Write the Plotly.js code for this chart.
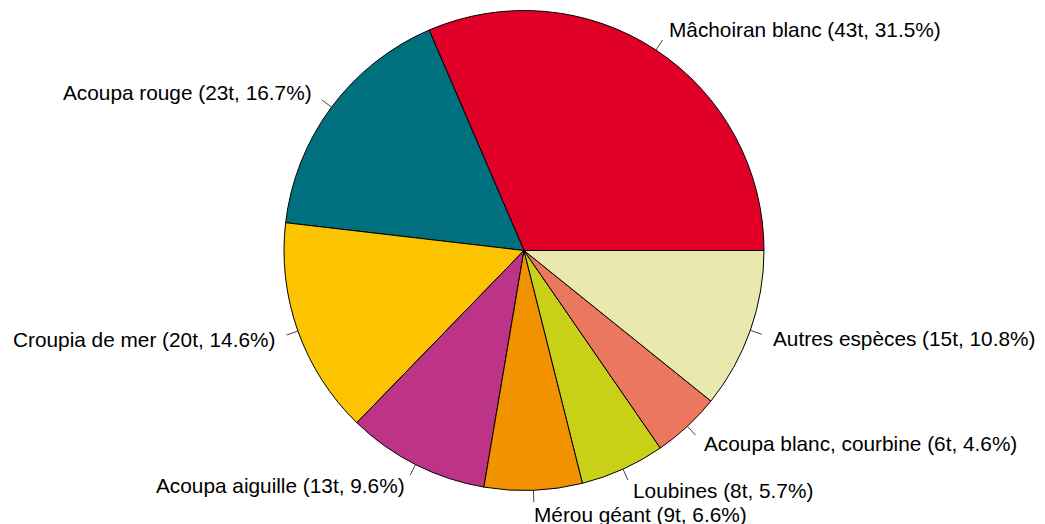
<!DOCTYPE html>
<html>
<head>
<meta charset="utf-8">
<script src="https://cdn.plot.ly/plotly-3.0.1.min.js"></script>
<style>
  html, body { margin: 0; padding: 0; background: #fff; }
  #myPlot { width: 1045px; height: 524px; }
</style>
</head>
<body>
<div id="myPlot"></div>
<script>
// Species and catches (tonnes, share in %)
const species = ['Mâchoiran blanc', 'Acoupa rouge', 'Croupia de mer', 'Acoupa aiguille',
                 'Mérou géant', 'Loubines', 'Acoupa blanc, courbine', 'Autres espèces'];
const tonnes  = [43, 23, 20, 13, 9, 8, 6, 15];
const percent = [31.5, 16.7, 14.6, 9.6, 6.6, 5.7, 4.6, 10.8];
const colors  = ['#E00027', '#00707F', '#FBC300', '#BC3387',
                 '#F29200', '#C8D117', '#EB775F', '#E8E8AF'];

// Geometry of the pie in pixels
const W = 1045, H = 524;
const cx = 524, cy = 250.5, R = 240;

// Labels like R's pie(): "name (XXt, YY.Y%)"
var labels = [];
for (var i = 0; i < species.length; i++) {
  labels.push(species[i] + ' (' + tonnes[i] + 't, ' + percent[i].toFixed(1) + '%)');
}

// Mid angles of each slice, counterclockwise from 3 o'clock
var total = percent.reduce(function(a, b) { return a + b; }, 0);
var mids = [];
var acc = 0;
for (var i = 0; i < percent.length; i++) {
  mids.push(2 * Math.PI * (acc + percent[i] / 2) / total);
  acc += percent[i];
}

// plotly puts the first slice clockwise of "rotation" even when going counterclockwise,
// so shift it back by the first slice to start at 3 o'clock
var pie = {
  type: 'pie',
  values: percent,
  labels: labels,
  sort: false,
  direction: 'counterclockwise',
  rotation: 90 - 360 * percent[0] / total,
  textinfo: 'none',
  hoverinfo: 'label',
  marker: { colors: colors, line: { color: '#000000', width: 1 } },
  domain: { x: [(cx - R) / W, (cx + R) / W], y: [(H - cy - R) / H, (H - cy + R) / H] },
  showlegend: false
};

// Leader lines (r = 1 to 1.05), as in R
var lx = [], ly = [];
for (var i = 0; i < mids.length; i++) {
  lx.push(Math.cos(mids[i]), 1.05 * Math.cos(mids[i]), null);
  ly.push(Math.sin(mids[i]), 1.05 * Math.sin(mids[i]), null);
}
var leaders = {
  type: 'scatter', mode: 'lines', x: lx, y: ly,
  line: { color: '#444444', width: 1 },
  hoverinfo: 'skip', showlegend: false, cliponaxis: false
};

// Text labels at r = 1.1
var annotations = [];
for (var i = 0; i < mids.length; i++) {
  var c = Math.cos(mids[i]);
  annotations.push({
    x: 1.1 * c, y: 1.1 * Math.sin(mids[i]),
    xref: 'x', yref: 'y',
    text: labels[i], showarrow: false,
    xanchor: c < 0 ? 'right' : 'left', yanchor: 'middle',
    borderpad: 0, borderwidth: 0
  });
}

var layout = {
  width: W, height: H,
  margin: { l: 0, r: 0, t: 0, b: 0 },
  paper_bgcolor: '#ffffff', plot_bgcolor: 'rgba(0,0,0,0)',
  font: { family: 'Liberation Sans, Arial, sans-serif', size: 20.8, color: '#000000' },
  xaxis: { range: [-cx / R, (W - cx) / R], visible: false, fixedrange: true },
  yaxis: { range: [-(H - cy) / R, cy / R], visible: false, fixedrange: true },
  annotations: annotations,
  showlegend: false
};

Plotly.newPlot('myPlot', [pie, leaders], layout, { displayModeBar: false, staticPlot: true });
</script>
</body>
</html>
